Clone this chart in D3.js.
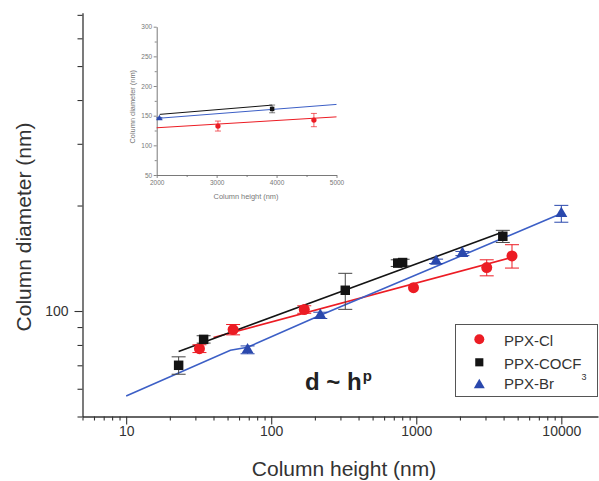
<!DOCTYPE html>
<html>
<head>
<meta charset="utf-8">
<script src="https://cdn.jsdelivr.net/npm/d3@7/dist/d3.min.js"></script>
<style>
  html, body { margin: 0; padding: 0; background: #fff; }
  svg { display: block; }
  text { font-family: "Liberation Sans", Arial, sans-serif; }
</style>
</head>
<body>
<svg id="chart" width="599" height="481"></svg>
<script>
// ---- Main plot: column diameter vs column height (log-log) ----
const seriesNames = ["PPX-Cl", "PPX-COCF", "PPX-Br"];

// PPX-Cl
const clHeight   = [32, 54.6, 169, 957, 3060, 4570];
const clDiameter = [78.1, 88.5, 101, 116.6, 133, 143.6];
const clErr      = [2, 3, 2.5, 0, 7, 11];
const clFitH     = [40, 4570];
const clFitD     = [84, 142.3];

// PPX-COCF3
const cfHeight   = [23, 34.2, 324, 745, 805, 3950];
const cfDiameter = [70, 83, 114.6, 137, 137.5, 163.4];
const cfErr      = [4, 2, 13.5, 3, 3, 6.5];
const cfFitH     = [23, 3950];
const cfFitD     = [76.7, 168];

// PPX-Br
const brHeight   = [68.7, 218, 1370, 2080, 10000];
const brDiameter = [77.5, 97.2, 138.6, 145.9, 189.7];
const brErr      = [2, 2, 2, 2, 10.5];
const brFitH     = [10, 52.3, 68.7, 218, 10000];
const brFitD     = [57.2, 77.3, 78.8, 97.2, 189.7];

const xMajorTicks = [10, 100, 1000, 10000];
const xMinorTicks = [5, 6, 7, 8, 9, 20, 30, 40, 50, 60, 70, 80, 90,
  200, 300, 400, 500, 600, 700, 800, 900,
  2000, 3000, 4000, 5000, 6000, 7000, 8000, 9000];
const yMajorTicks = [100];
const yMinorTicks = [50, 60, 70, 80, 90, 200, 300, 400, 500, 600, 700];

// ---- Inset: linear close-up of the tallest columns ----
const inClH = [3022, 4623];
const inClD = [132.5, 142.6];
const inClE = [8.4, 11.2];
const inCfH = [3926];
const inCfD = [161.4];
const inCfE = [6.5];
const inBrH = [2045];
const inBrD = [145.4];
const inBrE = [1.5];
const inClFitH = [2000, 5000], inClFitD = [129.6, 148];
const inCfFitH = [2050, 3926], inCfFitD = [152.2, 167.8];
const inBrFitH = [2000, 5000], inBrFitD = [145.4, 169];
const inXTicks = [2000, 3000, 4000, 5000];
const inXMinor = [2500, 3500, 4500];
const inYTicks = [50, 100, 150, 200, 250, 300];
const inYMinor = [75, 125, 175, 225, 275];

const RED = "#ec1c24", BLACK = "#141414", BLUE = "#2a48ad", BLUE_LINE = "#3c5fc6";
const AXIS = "#333";

const svg = d3.select("#chart");
svg.append("rect").attr("width", 599).attr("height", 481).attr("fill", "#fff");

const x = d3.scaleLog().domain([5, 17900]).range([82.5, 598]);
const y = d3.scaleLog().domain([50, 710]).range([416.5, 12.7]);

const zip = (a, b, e) => a.map((v, i) => ({ h: v, d: b[i], e: e ? e[i] : 0 }));

// axes
const gx = svg.append("g").attr("transform", `translate(0,${y(50)})`);
gx.call(d3.axisBottom(x).tickValues(xMinorTicks).tickSize(4).tickFormat(""));
gx.call(g => g.select(".domain").remove());
const gxMaj = svg.append("g").attr("transform", `translate(0,${y(50)})`)
  .call(d3.axisBottom(x).tickValues(xMajorTicks).tickSize(8).tickSizeOuter(0)
    .tickPadding(2).tickFormat(d3.format("d")));
[gx, gxMaj].forEach(g => {
  g.selectAll("line").attr("stroke", AXIS).attr("stroke-width", 1.1);
  g.selectAll("path").attr("stroke", AXIS).attr("stroke-width", 1.3);
  g.selectAll("text").attr("font-size", 14).attr("fill", "#333")
    .attr("font-family", "Liberation Sans, Arial, sans-serif");
});

const gy = svg.append("g").attr("transform", `translate(${x(5)},0)`);
gy.call(d3.axisLeft(y).tickValues(yMinorTicks).tickSize(5).tickFormat(""));
gy.call(g => g.select(".domain").remove());
const gyMaj = svg.append("g").attr("transform", `translate(${x(5)},0)`)
  .call(d3.axisLeft(y).tickValues(yMajorTicks).tickSize(8).tickSizeOuter(0)
    .tickPadding(6).tickFormat(d3.format("d")));
[gy, gyMaj].forEach(g => {
  g.selectAll("line").attr("stroke", AXIS).attr("stroke-width", 1.1);
  g.selectAll("path").attr("stroke", AXIS).attr("stroke-width", 1.3);
  g.selectAll("text").attr("font-size", 14).attr("fill", "#333")
    .attr("font-family", "Liberation Sans, Arial, sans-serif");
});

// axis titles
svg.append("text").attr("x", 344).attr("y", 476).attr("text-anchor", "middle")
  .attr("font-size", 21).attr("fill", "#333").text("Column height (nm)");
svg.append("text").attr("transform", "translate(31,227) rotate(-90)")
  .attr("text-anchor", "middle").attr("font-size", 21).attr("fill", "#333")
  .text("Column diameter (nm)");

// fit lines
const line = d3.line().x(p => x(p.h)).y(p => y(p.d));
svg.append("path").datum(zip(clFitH, clFitD)).attr("d", line)
  .attr("fill", "none").attr("stroke", RED).attr("stroke-width", 1.6);
svg.append("path").datum(zip(cfFitH, cfFitD)).attr("d", line)
  .attr("fill", "none").attr("stroke", BLACK).attr("stroke-width", 1.6);
svg.append("path").datum(zip(brFitH, brFitD)).attr("d", line)
  .attr("fill", "none").attr("stroke", BLUE_LINE).attr("stroke-width", 1.6);

// error bars + markers
function drawSeries(root, xs, ys, pts, color, errColor, symbol, size, cap, lw) {
  const g = root.append("g");
  const eb = g.selectAll(".eb").data(pts.filter(p => p.e > 0)).join("g");
  eb.append("line").attr("x1", p => xs(p.h)).attr("x2", p => xs(p.h))
    .attr("y1", p => ys(p.d + p.e)).attr("y2", p => ys(p.d - p.e));
  eb.append("line").attr("x1", p => xs(p.h) - cap).attr("x2", p => xs(p.h) + cap)
    .attr("y1", p => ys(p.d + p.e)).attr("y2", p => ys(p.d + p.e));
  eb.append("line").attr("x1", p => xs(p.h) - cap).attr("x2", p => xs(p.h) + cap)
    .attr("y1", p => ys(p.d - p.e)).attr("y2", p => ys(p.d - p.e));
  eb.selectAll("line").attr("stroke", errColor).attr("stroke-width", lw);
  g.selectAll(".m").data(pts).join("path")
    .attr("transform", p => `translate(${xs(p.h)},${ys(p.d)})`)
    .attr("d", d3.symbol().type(symbol).size(size))
    .attr("fill", color);
}
drawSeries(svg, x, y, zip(clHeight, clDiameter, clErr), RED, RED, d3.symbolCircle, 95, 7, 1);
drawSeries(svg, x, y, zip(cfHeight, cfDiameter, cfErr), BLACK, "#444", d3.symbolSquare, 90, 7, 1);
drawSeries(svg, x, y, zip(brHeight, brDiameter, brErr), BLUE, BLUE, d3.symbolTriangle, 62, 7, 1);

// power-law annotation
const ann = svg.append("text").attr("x", 305).attr("y", 389.5)
  .attr("font-size", 24).attr("font-weight", "bold").attr("fill", "#222");
ann.append("tspan").text("d ~ h");
ann.append("tspan").attr("dy", -9).attr("font-size", 15).attr("dx", 1).text("p");

// legend
const lg = svg.append("g");
lg.append("rect").attr("x", 455.5).attr("y", 324.5).attr("width", 142).attr("height", 72)
  .attr("fill", "#fff").attr("stroke", "#555").attr("stroke-width", 1);
const legSymbols = [d3.symbolCircle, d3.symbolSquare, d3.symbolTriangle];
const legColors = [RED, BLACK, BLUE];
const legSizes = [78, 66, 52];
const legMarkY = [339.3, 362.3, 385];
const legTextY = [345.5, 368.5, 389];
seriesNames.forEach((name, i) => {
  lg.append("path").attr("transform", `translate(479.3,${legMarkY[i]})`)
    .attr("d", d3.symbol().type(legSymbols[i]).size(legSizes[i])).attr("fill", legColors[i]);
  const t = lg.append("text").attr("x", 504).attr("y", legTextY[i])
    .attr("font-size", 15).attr("fill", "#333").text(name);
  if (name === "PPX-COCF") {
    t.append("tspan").attr("font-size", 9).attr("dy", 11).text("3");
  }
});

// ---- inset ----
const ix = d3.scaleLinear().domain([2000, 5000]).range([156.7, 336.5]);
const iy = d3.scaleLinear().domain([50, 300]).range([175, 26.7]);
const inset = svg.append("g");
const INS = "#6a6a6a";
const ixAxis = inset.append("g").attr("transform", `translate(0,${iy(50)})`)
  .call(d3.axisBottom(ix).tickValues(inXTicks).tickSize(3).tickSizeOuter(0).tickPadding(2).tickFormat(d3.format("d")));
const ixMinor = inset.append("g").attr("transform", `translate(0,${iy(50)})`)
  .call(d3.axisBottom(ix).tickValues(inXMinor).tickSize(2).tickFormat(""));
ixMinor.select(".domain").remove();
const iyAxis = inset.append("g").attr("transform", `translate(${ix(2000)},0)`)
  .call(d3.axisLeft(iy).tickValues(inYTicks).tickSize(3).tickSizeOuter(0).tickPadding(1.5).tickFormat(d3.format("d")));
const iyMinor = inset.append("g").attr("transform", `translate(${ix(2000)},0)`)
  .call(d3.axisLeft(iy).tickValues(inYMinor).tickSize(2).tickFormat(""));
iyMinor.select(".domain").remove();
[ixAxis, ixMinor, iyAxis, iyMinor].forEach(g => {
  g.selectAll("line").attr("stroke", INS).attr("stroke-width", 0.8);
  g.selectAll("path").attr("stroke", INS).attr("stroke-width", 0.9);
  g.selectAll("text").attr("font-size", 6.5).attr("fill", "#777")
    .attr("font-family", "Liberation Sans, Arial, sans-serif");
});
inset.append("text").attr("x", 246).attr("y", 198.5).attr("text-anchor", "middle")
  .attr("font-size", 7.4).attr("fill", "#777").text("Column height (nm)");
inset.append("text").attr("transform", "translate(135,106.7) rotate(-90)")
  .attr("text-anchor", "middle").attr("font-size", 7.4).attr("fill", "#777")
  .text("Column diameter (nm)");

const iline = d3.line().x(p => ix(p.h)).y(p => iy(p.d));
inset.append("path").datum(zip(inClFitH, inClFitD)).attr("d", iline)
  .attr("fill", "none").attr("stroke", RED).attr("stroke-width", 1);
inset.append("path").datum(zip(inCfFitH, inCfFitD)).attr("d", iline)
  .attr("fill", "none").attr("stroke", BLACK).attr("stroke-width", 1);
inset.append("path").datum(zip(inBrFitH, inBrFitD)).attr("d", iline)
  .attr("fill", "none").attr("stroke", BLUE_LINE).attr("stroke-width", 1);
drawSeries(inset, ix, iy, zip(inClH, inClD, inClE), RED, RED, d3.symbolCircle, 22, 3, 0.7);
drawSeries(inset, ix, iy, zip(inCfH, inCfD, inCfE), BLACK, "#444", d3.symbolSquare, 20, 3, 0.7);
drawSeries(inset, ix, iy, zip(inBrH, inBrD, inBrE), BLUE, BLUE, d3.symbolTriangle, 18, 3, 0.7);
</script>
</body>
</html>
